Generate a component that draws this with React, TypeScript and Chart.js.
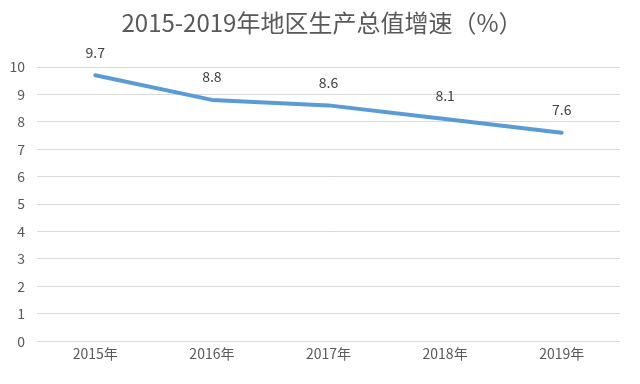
import React, { useEffect, useRef } from "react";
import { Chart, registerables } from "chart.js";

Chart.register(...registerables);

const categories = ["2015年", "2016年", "2017年", "2018年", "2019年"];
const growth = [9.7, 8.8, 8.6, 8.1, 7.6];
const yTicks = [0, 1, 2, 3, 4, 5, 6, 7, 8, 9, 10];
const titleText = "2015-2019年地区生产总值增速（%）";

const FONT = "'Noto Sans CJK SC', 'Noto Sans', sans-serif";

const labelPlugin = {
  id: "pointLabels",
  afterDatasetsDraw(chart: any) {
    const ctx = chart.ctx;
    const meta = chart.getDatasetMeta(0);
    ctx.save();
    ctx.font = `14px ${FONT}`;
    ctx.fillStyle = "#404040";
    ctx.textAlign = "center";
    ctx.textBaseline = "middle";
    meta.data.forEach((pt: any, i: number) => {
      ctx.fillText(String(growth[i]), pt.x, pt.y - 23);
    });
    ctx.restore();
  },
};

const titlePlugin = {
  id: "customTitle",
  afterDraw(chart: any) {
    const ctx = chart.ctx;
    ctx.save();
    ctx.font = `24px ${FONT}`;
    ctx.fillStyle = "#595959";
    ctx.textAlign = "center";
    ctx.textBaseline = "middle";
    ctx.fillText(titleText, 322, 23);
    ctx.restore();
  },
};

export default function App() {
  const ref = useRef<HTMLCanvasElement>(null);
  useEffect(() => {
    if (!ref.current) return;
    const chart = new Chart(ref.current, {
      type: "line",
      data: {
        labels: categories,
        datasets: [
          {
            data: growth,
            borderColor: "#5B9BD5",
            borderWidth: 4,
            borderCapStyle: "round",
            borderJoinStyle: "round",
            pointRadius: 0,
            tension: 0,
            fill: false,
          },
        ],
      },
      options: {
        responsive: false,
        animation: false,
        layout: { padding: { top: 67, bottom: 18, left: 0, right: 20 } },
        plugins: {
          legend: { display: false },
          tooltip: { enabled: false },
          title: { display: false },
        },
        scales: {
          x: {
            offset: true,
            grid: { display: false, drawTicks: false },
            border: { display: false },
            ticks: {
              color: "#595959",
              font: { family: FONT, size: 14 },
              padding: 4,
            },
          },
          y: {
            min: 0,
            max: 10,
            afterBuildTicks(axis: any) {
              axis.ticks = yTicks.map((v) => ({ value: v }));
            },
            afterFit(axis: any) {
              axis.width = 37;
            },
            grid: { color: "#D9D9D9", drawTicks: false },
            border: { display: false },
            ticks: {
              color: "#595959",
              font: { family: FONT, size: 14 },
              padding: 12,
            },
          },
        },
      },
      plugins: [labelPlugin, titlePlugin],
    });
    return () => chart.destroy();
  }, []);
  return (
    <div style={{ position: "absolute", left: 0, top: 0, width: 640, height: 384, background: "#fff" }}>
      <canvas ref={ref} width={640} height={384} />
    </div>
  );
}
